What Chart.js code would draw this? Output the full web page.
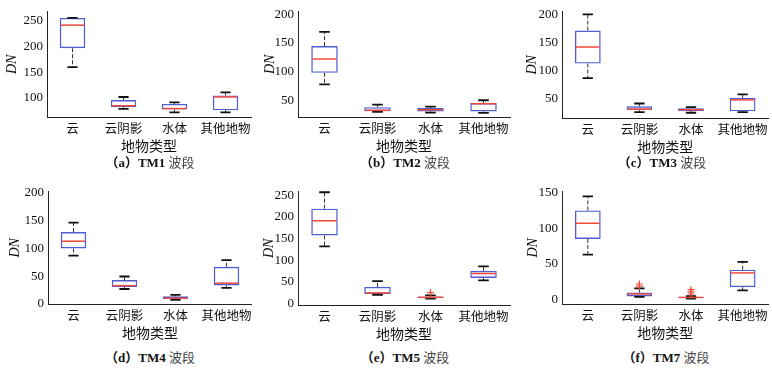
<!DOCTYPE html>
<html>
<head>
<meta charset="utf-8">
<script src="https://cdn.jsdelivr.net/npm/chart.js@4.4.1/dist/chart.umd.min.js"></script>
<style>
  body { margin: 0; background: #fff; }
  #page { position: relative; width: 772px; height: 373px; background: #fff; overflow: hidden; }
  canvas { position: absolute; }
  .cap {
    position: absolute; width: 160px; text-align: center;
    font-family: "Liberation Serif", "Noto Sans CJK SC", serif; font-size: 13px; color: #222;
    line-height: 16px;
  }
  .cap b { font-weight: bold; color: #111; }
  .cap .cn { font-family: "Noto Sans CJK SC", sans-serif; color: #444; }
</style>
</head>
<body>
<div id="page">
  <canvas id="tm1"></canvas>
  <canvas id="tm2"></canvas>
  <canvas id="tm3"></canvas>
  <canvas id="tm4"></canvas>
  <canvas id="tm5"></canvas>
  <canvas id="tm7"></canvas>
  <div class="cap" style="left:70px; top:154px;"><b>（a）TM1</b> <span class="cn">波段</span></div>
  <div class="cap" style="left:325px; top:154px;"><b>（b）TM2</b> <span class="cn">波段</span></div>
  <div class="cap" style="left:582px; top:154px;"><b>（c）TM3</b> <span class="cn">波段</span></div>
  <div class="cap" style="left:70px; top:349px;"><b>（d）TM4</b> <span class="cn">波段</span></div>
  <div class="cap" style="left:325px; top:349px;"><b>（e）TM5</b> <span class="cn">波段</span></div>
  <div class="cap" style="left:586px; top:349px;"><b>（f）TM7</b> <span class="cn">波段</span></div>
</div>
<script>
const categories = ['云', '云阴影', '水体', '其他地物'];

// each row: [lower whisker, q1, median, q3, upper whisker]
const tm1Stats = [[160, 197, 242, 256, 256], [79, 82, 85, 96, 102], [72, 77.5, 79.5, 88.5, 91.5], [72, 76, 102, 105, 111]];
const tm2Stats = [[78, 98, 122, 144.5, 169], [30.5, 31.5, 33, 38.5, 43], [29, 31, 34, 37, 39.5], [28.5, 31, 44.5, 45.5, 50.5]];
const tm3Stats = [[86, 112, 141.5, 171, 200], [25, 28.5, 30.5, 35.5, 40.5], [24, 27, 29.5, 32, 34], [25, 26.5, 47, 50.5, 57]];
const tm4Stats = [[87, 100, 113, 129.5, 146.5], [27, 30.5, 33, 43, 49.5], [7.5, 9, 10.5, 14, 16.5], [29, 33.5, 37.5, 67, 79]];
const tm5Stats = [[132, 157, 191, 219, 257], [20, 22, 24, 38, 51.5], [11, 12.5, 14, 16, 18.5], [53, 59, 69, 75, 85.5]];
const tm7Stats = [[63, 85, 107, 125, 144.5], [4, 4.6, 8, 10, 16], [1.4, 2.3, 3.2, 3.7, 5], [13, 17.5, 37.5, 42, 53]];

const noOutliers = [[], [], [], []];
const tm5Outliers = [[], [], [25], []];
const tm7Outliers = [[], [19, 22], [8, 11, 14], []];

const tm1Ticks = [100, 150, 200, 250];
const tm2Ticks = [50, 100, 150, 200];
const tm3Ticks = [50, 100, 150, 200];
const tm4Ticks = [0, 50, 100, 150, 200];
const tm5Ticks = [0, 50, 100, 150, 200, 250];
const tm7Ticks = [0, 50, 100, 150];

const tm1Range = [63, 268];
const tm2Range = [21.4, 204];
const tm3Range = [14.6, 204.5];
const tm4Range = [0, 202];
const tm5Range = [-3.7, 258];
const tm7Range = [-6, 151];

// whiskers, caps, medians and outliers, placed with the chart's own scales
function boxParts(stats, outliers) {
  return {
    id: 'boxParts',
    afterDatasetsDraw(chart) {
      const ctx = chart.ctx;
      const y = chart.scales.y;
      const meta = chart.getDatasetMeta(0);
      stats.forEach((s, i) => {
        const bar = meta.data[i];
        const cx = bar.x;
        const half = bar.width / 2;
        const cap = bar.width * 0.2;
        const yLow = y.getPixelForValue(s[0]);
        const yQ1 = y.getPixelForValue(s[1]);
        const yMed = y.getPixelForValue(s[2]);
        const yQ3 = y.getPixelForValue(s[3]);
        const yHigh = y.getPixelForValue(s[4]);
        ctx.save();
        ctx.strokeStyle = '#333';
        ctx.lineWidth = 1;
        ctx.setLineDash([4, 2]);
        ctx.beginPath();
        ctx.moveTo(cx, yQ3); ctx.lineTo(cx, yHigh);
        ctx.moveTo(cx, yQ1); ctx.lineTo(cx, yLow);
        ctx.stroke();
        ctx.setLineDash([]);
        ctx.strokeStyle = '#111';
        ctx.lineWidth = 1.8;
        ctx.beginPath();
        ctx.moveTo(cx - cap, yHigh); ctx.lineTo(cx + cap, yHigh);
        ctx.moveTo(cx - cap, yLow); ctx.lineTo(cx + cap, yLow);
        ctx.stroke();
        ctx.strokeStyle = '#f04a3a';
        ctx.lineWidth = 1.5;
        ctx.beginPath();
        ctx.moveTo(cx - half + 1, yMed); ctx.lineTo(cx + half - 1, yMed);
        ctx.stroke();
        ctx.lineWidth = 1.2;
        outliers[i].forEach(v => {
          const py = y.getPixelForValue(v);
          ctx.beginPath();
          ctx.moveTo(cx - 3.5, py); ctx.lineTo(cx + 3.5, py);
          ctx.moveTo(cx, py - 3.5); ctx.lineTo(cx, py + 3.5);
          ctx.stroke();
        });
        ctx.restore();
      });
    }
  };
}

function makeChart(id, stats, outliers, ticks, range, geo) {
  const canvas = document.getElementById(id);
  const width = geo.right + geo.padRight - geo.left;
  const height = geo.bottom - geo.top + 37;
  canvas.width = width;
  canvas.height = height;
  canvas.style.left = geo.left + 'px';
  canvas.style.top = geo.top + 'px';

  new Chart(canvas, {
    type: 'bar',
    data: {
      labels: categories,
      datasets: [{
        data: stats.map(s => [s[1], s[3]]),
        backgroundColor: 'rgba(255,255,255,0)',
        borderColor: '#4d5fd2',
        borderWidth: 1.4,
        borderSkipped: false,
        barPercentage: 0.5,
        categoryPercentage: 1
      }]
    },
    options: {
      responsive: false,
      animation: false,
      devicePixelRatio: 1,
      layout: { padding: { top: geo.areaTop - geo.top, right: geo.padRight, left: 0, bottom: 0 } },
      plugins: { legend: { display: false }, tooltip: { enabled: false } },
      scales: {
        x: {
          grid: { display: false, offset: false, drawTicks: false, tickLength: 0 },
          border: { display: true, color: '#222', width: 1 },
          ticks: { color: '#111', padding: 4, maxRotation: 0, minRotation: 0, autoSkip: false,
                   font: { family: 'Noto Sans CJK SC', size: 12.5 } },
          title: { display: true, text: '地物类型', color: '#111', padding: 0,
                   font: { family: 'Noto Sans CJK SC', size: 14 } },
          afterFit: s => { s.height = 37; }
        },
        y: {
          min: range[0],
          max: range[1],
          afterBuildTicks: s => { s.ticks = ticks.map(v => ({ value: v })); },
          grid: { display: false, drawTicks: false, tickLength: 0 },
          border: { display: true, color: '#222', width: 1 },
          ticks: { color: '#111', padding: 4, font: { family: 'Liberation Serif', size: 13 } },
          title: { display: true, text: 'DN', color: '#111', padding: { top: geo.dnX - geo.left - 7.8, bottom: 0 },
                   font: { family: 'Liberation Serif', size: 14, style: 'italic' } },
          afterFit: s => { s.width = geo.axisX - geo.left; }
        }
      }
    },
    plugins: [boxParts(stats, outliers)]
  });
}

makeChart('tm1', tm1Stats, noOutliers, tm1Ticks, tm1Range, { left: 0, top: 0, axisX: 47, right: 251, padRight: 6, areaTop: 5, bottom: 117, dnX: 12 });
makeChart('tm2', tm2Stats, noOutliers, tm2Ticks, tm2Range, { left: 255, top: 0, axisX: 298, right: 510, padRight: 3, areaTop: 5, bottom: 117, dnX: 270 });
makeChart('tm3', tm3Stats, noOutliers, tm3Ticks, tm3Range, { left: 512, top: 0, axisX: 562, right: 769, padRight: 3, areaTop: 4, bottom: 118, dnX: 532 });
makeChart('tm4', tm4Stats, noOutliers, tm4Ticks, tm4Range, { left: 0, top: 180, axisX: 48, right: 252, padRight: 4, areaTop: 190, bottom: 304, dnX: 15 });
makeChart('tm5', tm5Stats, tm5Outliers, tm5Ticks, tm5Range, { left: 255, top: 180, axisX: 298, right: 510, padRight: 3, areaTop: 187, bottom: 305, dnX: 269 });
makeChart('tm7', tm7Stats, tm7Outliers, tm7Ticks, tm7Range, { left: 512, top: 180, axisX: 562, right: 769, padRight: 3, areaTop: 190, bottom: 304, dnX: 533 });
</script>
</body>
</html>
